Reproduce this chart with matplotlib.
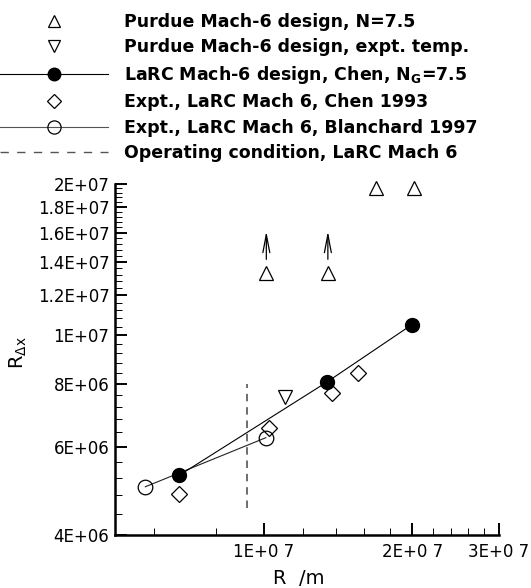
import matplotlib
matplotlib.use('Agg')
import matplotlib.pyplot as plt
from matplotlib.lines import Line2D
from matplotlib.ticker import FixedLocator, FixedFormatter, MultipleLocator, NullFormatter

# values (log-log)
purdue_x = [1.013e7, 1.35e7, 1.69e7, 2.02e7]
purdue_y = [1.33e7, 1.33e7, 1.96e7, 1.96e7]
arrow_x = [1.013e7, 1.35e7]          # lower bound points, real value higher
arrow_from = 1.416e7
arrow_to = 1.61e7
purdue_temp_x = [1.103e7]
purdue_temp_y = [7.54e6]
larc_x = [6.75e6, 1.345e7, 2.0e7]
larc_y = [5.26e6, 8.07e6, 1.05e7]
chen_x = [6.75e6, 1.024e7, 1.375e7, 1.557e7]
chen_y = [4.83e6, 6.52e6, 7.66e6, 8.41e6]
blan_x = [5.76e6, 1.011e7]
blan_y = [4.99e6, 6.25e6]
oper_x = 9.26e6
oper_y = [4.52e6, 8.0e6]

xticks = [1e7, 2e7, 3e7]
xticklabels = ['1E+0 7', '2E+0 7', '3E+0 7']
yticks = [4e6, 6e6, 8e6, 1e7, 1.2e7, 1.4e7, 1.6e7, 1.8e7, 2e7]
yticklabels = ['4E+06', '6E+06', '8E+06', '1E+07', '1.2E+07', '1.4E+07',
               '1.6E+07', '1.8E+07', '2E+07']

labels = ['Purdue Mach-6 design, N=7.5',
          'Purdue Mach-6 design, expt. temp.',
          r'LaRC Mach-6 design, Chen, $\mathbf{N_G}$=7.5',
          'Expt., LaRC Mach 6, Chen 1993',
          'Expt., LaRC Mach 6, Blanchard 1997',
          'Operating condition, LaRC Mach 6']

plt.rcParams['font.family'] = ['DejaVu Sans']

fig = plt.figure(figsize=(5.31, 5.88), dpi=100)
ax = fig.add_axes([115/531, 53/588, 384/531, 351/588])
ax.set_xscale('log')
ax.set_yscale('log')

mk = dict(mfc='none', mec='black', mew=0.9, ls='none', clip_on=False)

ax.plot(blan_x, blan_y, '-', color='#222222', lw=0.8, marker='o', ms=10.5,
        mfc='none', mec='black', mew=0.9, zorder=3)
ax.plot(larc_x, larc_y, '-', color='black', lw=0.8, marker='o', ms=10,
        mfc='black', mec='black', zorder=4)
ax.plot(chen_x, chen_y, marker='D', ms=8, **mk)
ax.plot(purdue_temp_x, purdue_temp_y, marker='v', ms=10, **mk)
ax.plot(purdue_x, purdue_y, marker='^', ms=10, **mk)
ax.plot([oper_x, oper_x], oper_y, color='#555555', lw=1.2, dashes=(4.5, 3.5))

for xa in arrow_x:
    ax.annotate('', xy=(xa, arrow_to), xytext=(xa, arrow_from),
                arrowprops=dict(arrowstyle='->,head_length=1.3,head_width=0.25',
                                color='black', lw=0.9, shrinkA=0, shrinkB=0))

ax.set_xlim(5e6, 3e7)
ax.set_ylim(4e6, 2e7)

ax.spines['top'].set_visible(False)
ax.spines['right'].set_visible(False)
ax.spines['left'].set_linewidth(1.8)
ax.spines['bottom'].set_linewidth(1.8)

ax.xaxis.set_major_locator(FixedLocator(xticks))
ax.xaxis.set_major_formatter(FixedFormatter(xticklabels))
ax.xaxis.set_minor_locator(MultipleLocator(2e6))
ax.xaxis.set_minor_formatter(NullFormatter())
ax.yaxis.set_major_locator(FixedLocator(yticks))
ax.yaxis.set_major_formatter(FixedFormatter(yticklabels))
ax.yaxis.set_minor_locator(MultipleLocator(4e5))
ax.yaxis.set_minor_formatter(NullFormatter())

ax.tick_params(which='major', direction='in', length=8.6, width=1.4,
               labelsize=12, pad=4)
ax.tick_params(which='minor', direction='in', length=5, width=0.7)
ax.tick_params(axis='x', which='major', pad=6)

ax.set_xlabel('R  /m', fontsize=14)
ax.xaxis.set_label_coords(0.479, -0.097)
ax.set_ylabel(r'$\mathregular{R_{\Delta x}}$', fontsize=14)
ax.yaxis.set_label_coords(-0.225, 0.52)

handles = [
    Line2D([], [], ls='none', marker='^', ms=8, mfc='none', mec='black', mew=0.9),
    Line2D([], [], ls='none', marker='v', ms=8, mfc='none', mec='black', mew=0.9),
    Line2D([], [], ls='-', color='black', lw=0.8, marker='o', ms=9, mfc='black', mec='black'),
    Line2D([], [], ls='none', marker='D', ms=7.5, mfc='none', mec='black', mew=0.9),
    Line2D([], [], ls='-', color='#555555', lw=0.8, marker='o', ms=9.5, mfc='none', mec='black', mew=0.9),
    Line2D([], [], color='#555555', lw=1.0, dashes=(6, 6)),
]
fig.legend(handles, labels, loc='upper left', bbox_to_anchor=(0.0, 0.978),
           frameon=False, borderpad=0, borderaxespad=0, numpoints=1,
           handlelength=6.2, handletextpad=0.95, labelspacing=0.43,
           prop={'weight': 'bold', 'size': 12.5})

fig.savefig('out.png', dpi=100)
